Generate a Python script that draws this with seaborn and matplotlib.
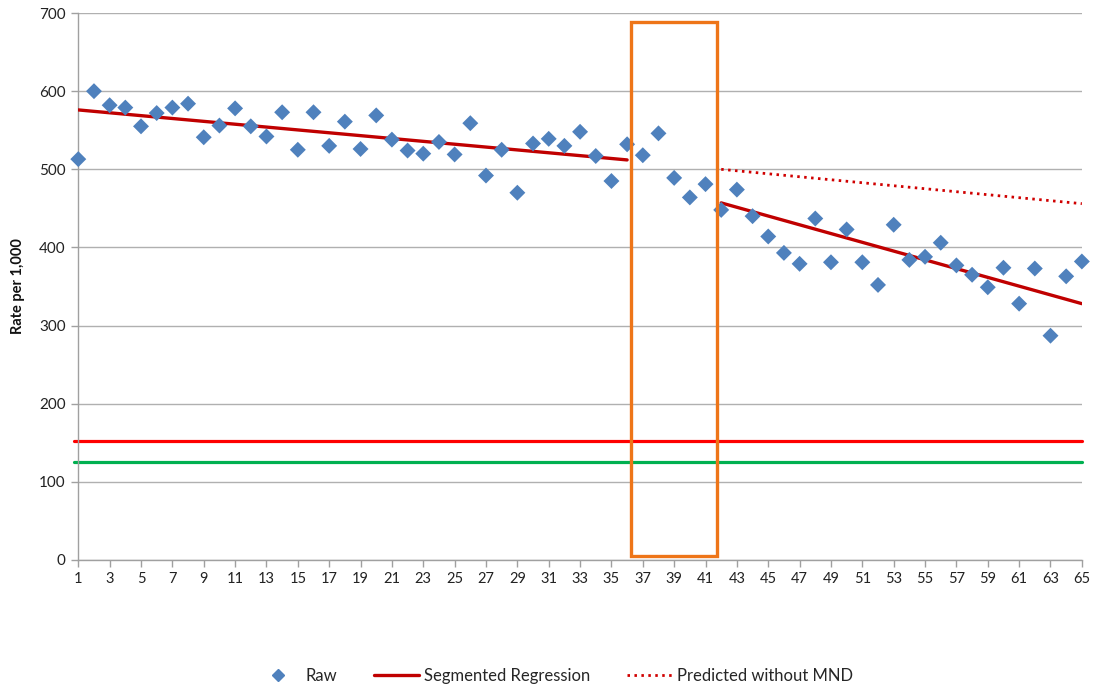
import matplotlib
matplotlib.use("Agg")
import matplotlib.pyplot as plt
from matplotlib.lines import Line2D
from matplotlib.patches import Rectangle
import seaborn as sns
import pandas as pd

# ---- data ----
periods = list(range(1, 66))
raw_values = [513, 600, 582, 579, 555, 572, 579, 584, 541, 556,
              578, 555, 542, 573, 525, 573, 530, 561, 526, 569,
              538, 524, 520, 535, 519, 559, 492, 525, 470, 533,
              539, 530, 548, 517, 485, 532, 518, 546, 489, 464,
              481, 448, 474, 440, 414, 393, 379, 437, 381, 423,
              381, 352, 429, 384, 388, 406, 377, 365, 349, 374,
              328, 373, 287, 363, 382]
seg1_x = [1, 36]
seg1_y = [576, 512]
seg2_x = [42, 65]
seg2_y = [457, 328]
pred_x = [42, 65]
pred_y = [500, 456]
red_ref = 152
green_ref = 125
box_x = [36.25, 41.75]
box_y = [5, 689]
x_tick_labels = [str(v) for v in range(1, 66, 2)]
y_ticks = [0, 100, 200, 300, 400, 500, 600, 700]

sns.set_theme(style="white")
plt.rcParams['font.family'] = ['Lato', 'DejaVu Sans']

fig = plt.figure(figsize=(10.95, 6.87), dpi=100)
ax = fig.add_axes([0.0715, 0.185, 0.9165, 0.796])

raw_df = pd.DataFrame({"period": periods, "rate": raw_values})
seg1_df = pd.DataFrame({"period": seg1_x, "rate": seg1_y})
seg2_df = pd.DataFrame({"period": seg2_x, "rate": seg2_y})
pred_df = pd.DataFrame({"period": pred_x, "rate": pred_y})

# reference horizontal lines
ax.axhline(red_ref, xmin=-0.004, xmax=1.0, color="#FF0000", lw=2.3, zorder=2, clip_on=False)
ax.axhline(green_ref, xmin=-0.004, xmax=1.0, color="#00B050", lw=2.3, zorder=2, clip_on=False)

sns.lineplot(data=seg1_df, x="period", y="rate", ax=ax, color="#C00000", lw=2.4, zorder=3)
sns.lineplot(data=seg2_df, x="period", y="rate", ax=ax, color="#C00000", lw=2.4, zorder=3)
sns.lineplot(data=pred_df, x="period", y="rate", ax=ax, color="#D00000", lw=2.0, zorder=3)
ax.lines[-1].set_linestyle((0, (0.9, 1.6)))

sns.scatterplot(data=raw_df, x="period", y="rate", ax=ax, marker="D", s=66,
                color="#4F81BD", edgecolor="none", zorder=4, clip_on=False)

ax.add_patch(Rectangle((box_x[0], box_y[0]), box_x[1] - box_x[0], box_y[1] - box_y[0],
                       fill=False, edgecolor="#EE7518", lw=2.4, zorder=5, clip_on=False))

ax.set_xlim(1, 65)
ax.set_ylim(0, 700)
ax.set_xticks(list(range(1, 66, 2)))
ax.set_xticklabels(x_tick_labels, fontsize=10.5, color="#222222")
ax.set_yticks(y_ticks)
ax.set_yticklabels([str(v) for v in y_ticks], fontsize=11, color="#222222")
ax.yaxis.grid(True, color="#B0B0B0", lw=1.0)
ax.set_axisbelow(True)
ax.tick_params(axis="both", which="both", length=5, width=1, color="#A0A0A0",
               direction="out", bottom=True, left=True, pad=4)
for side in ["top", "right"]:
    ax.spines[side].set_visible(False)
for side in ["left", "bottom"]:
    ax.spines[side].set_color("#A0A0A0")
    ax.spines[side].set_linewidth(1.0)

ax.set_xlabel("")
ax.set_ylabel("Rate per 1,000", fontsize=10.5, fontweight="bold", color="#111111", labelpad=10)

handles = [
    Line2D([], [], marker="D", color="#4F81BD", linestyle="none", markersize=6.5),
    Line2D([], [], color="#C00000", lw=2.4),
    Line2D([], [], color="#D00000", lw=2.0, linestyle=(0, (0.9, 1.6))),
]
fig.legend(handles, ["Raw", "Segmented Regression", "Predicted without MND"],
           loc="center", bbox_to_anchor=(0.506, 0.016), ncol=3, frameon=False,
           fontsize=12, handlelength=2.7, columnspacing=2.2, handletextpad=0.3)

fig.savefig("out.png", dpi=100)
